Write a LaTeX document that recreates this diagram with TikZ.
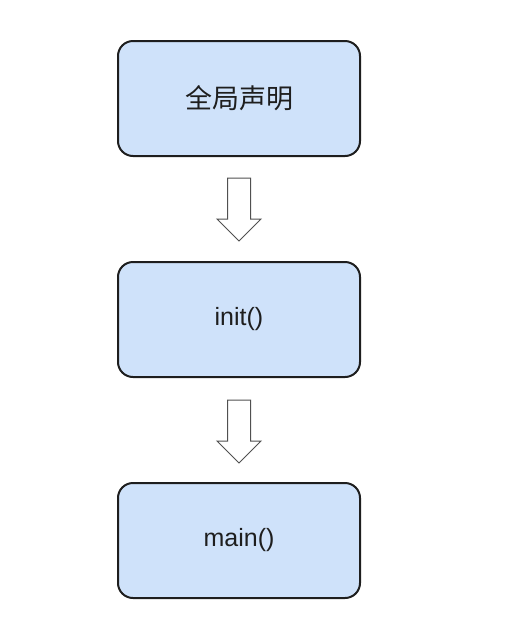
\documentclass[tikz,border=0pt]{standalone}
\usepackage{fontspec}
\setmainfont{Liberation Sans}
\newfontfamily\cjk{Noto Sans CJK SC}
\definecolor{boxfill}{HTML}{CFE2FA}
\definecolor{boxline}{HTML}{1E1E1E}
\definecolor{arrline}{HTML}{505050}
\begin{document}
\begin{tikzpicture}[x=1pt,y=-1pt,
  stepbox/.style={draw=boxline,line width=2pt,fill=boxfill,rounded corners=15pt,
    minimum width=242pt,minimum height=115pt,inner sep=0pt,font=\fontsize{25}{29}\selectfont,text=boxline}]
\useasboundingbox (0,0) rectangle (507,619);
\node[stepbox] (g) at (239,98.5) {\cjk\fontsize{27}{31}\selectfont 全局声明};
\node[stepbox] (i) at (239,319.5) {init()};
\node[stepbox] (m) at (239,540.5) {main()};
\coordinate (a1) at (239,178);
\coordinate (a2) at (239,400);
\foreach \c in {a1,a2}{
  \draw[arrline,line width=1pt,fill=white,line join=miter]
    ([xshift=-11.5pt]\c) -- ([xshift=11.5pt]\c) -- ([xshift=11.5pt,yshift=-41pt]\c)
    -- ([xshift=22pt,yshift=-41pt]\c) -- ([yshift=-63pt]\c) -- ([xshift=-22pt,yshift=-41pt]\c)
    -- ([xshift=-11.5pt,yshift=-41pt]\c) -- cycle;
}
\end{tikzpicture}
\end{document}
